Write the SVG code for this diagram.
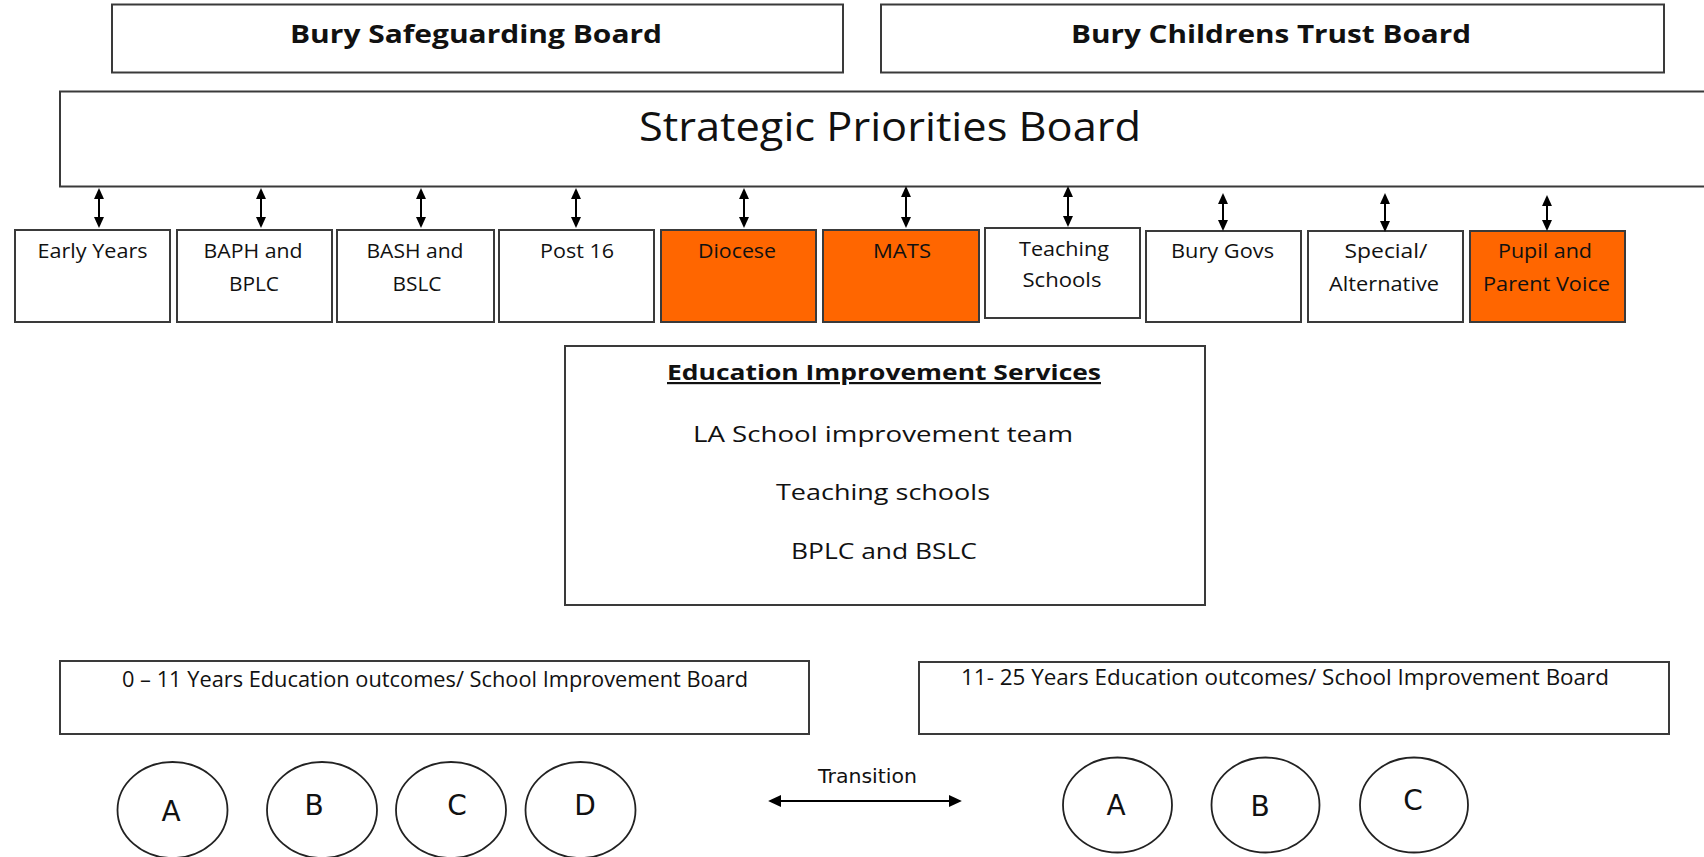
<svg xmlns="http://www.w3.org/2000/svg" width="1704" height="857" viewBox="0 0 1704 857">
<style>
.box{fill:#fff;stroke:#3a3a3a;stroke-width:2}
.org{fill:#FF6600}
.t{font-family:"Open Sans","Liberation Sans",sans-serif;fill:#111;text-anchor:middle}
.b{font-weight:bold}
.s20{font-size:20px}
.s22{font-size:22px}
.v{font-family:"DejaVu Sans","Liberation Sans",sans-serif;fill:#111;text-anchor:middle}
.conn line{stroke:#000;stroke-width:2;marker-start:url(#ah);marker-end:url(#ah)}
.conn line.h{marker-start:url(#ahl);marker-end:url(#ahl)}
.ell{fill:#fff;stroke:#222;stroke-width:1.8}
</style>
<defs>
<marker id="ah" viewBox="0 0 10 10" refX="6.4" refY="5" markerWidth="11" markerHeight="10" markerUnits="userSpaceOnUse" orient="auto-start-reverse" preserveAspectRatio="none"><path d="M0,0 L10,5 L0,10 z" fill="#000"/></marker>
<marker id="ahl" viewBox="0 0 10 10" refX="7" refY="5" markerWidth="13" markerHeight="12" markerUnits="userSpaceOnUse" orient="auto-start-reverse" preserveAspectRatio="none"><path d="M0,0 L10,5 L0,10 z" fill="#000"/></marker>
</defs>
<rect width="1704" height="857" fill="#fff"/>

<g id="safeguarding"><rect class="box" x="112" y="4.5" width="731" height="68"/><text class="t b" x="476" y="43" font-size="25" textLength="372" lengthAdjust="spacingAndGlyphs">Bury Safeguarding Board</text></g>
<g id="childrens-trust"><rect class="box" x="881" y="4.5" width="783" height="68"/><text class="t b" x="1271" y="43" font-size="25" textLength="400" lengthAdjust="spacingAndGlyphs">Bury Childrens Trust Board</text></g>
<g id="strategic"><rect class="box" x="60" y="91.5" width="1660" height="95"/><text class="t" x="890" y="141" font-size="40" textLength="502" lengthAdjust="spacingAndGlyphs">Strategic Priorities Board</text></g>

<g id="early-years"><rect class="box" x="15" y="230" width="155" height="92"/><text class="t s20" x="92.5" y="258" textLength="110" lengthAdjust="spacingAndGlyphs">Early Years</text></g>
<g id="baph"><rect class="box" x="177" y="230" width="155" height="92"/><text class="t s20" x="253" y="258" textLength="99" lengthAdjust="spacingAndGlyphs">BAPH and</text><text class="t s20" x="254" y="291" textLength="50" lengthAdjust="spacingAndGlyphs">BPLC</text></g>
<g id="bash"><rect class="box" x="337" y="230" width="157" height="92"/><text class="t s20" x="415" y="258" textLength="97" lengthAdjust="spacingAndGlyphs">BASH and</text><text class="t s20" x="417" y="291" textLength="49" lengthAdjust="spacingAndGlyphs">BSLC</text></g>
<g id="post16"><rect class="box" x="499" y="230" width="155" height="92"/><text class="t s20" x="577" y="258" textLength="74" lengthAdjust="spacingAndGlyphs">Post 16</text></g>
<g id="diocese"><rect class="box org" x="661" y="230" width="155" height="92"/><text class="t s20" x="737" y="258" textLength="78" lengthAdjust="spacingAndGlyphs">Diocese</text></g>
<g id="mats"><rect class="box org" x="823" y="230" width="156" height="92"/><text class="t s20" x="902" y="258" textLength="58" lengthAdjust="spacingAndGlyphs">MATS</text></g>
<g id="teaching-schools"><rect class="box" x="985" y="228" width="155" height="90"/><text class="t s20" x="1064" y="256" textLength="90" lengthAdjust="spacingAndGlyphs">Teaching</text><text class="t s20" x="1062" y="287" textLength="79" lengthAdjust="spacingAndGlyphs">Schools</text></g>
<g id="bury-govs"><rect class="box" x="1146" y="231" width="155" height="91"/><text class="t s20" x="1222.5" y="258" textLength="103" lengthAdjust="spacingAndGlyphs">Bury Govs</text></g>
<g id="special"><rect class="box" x="1308" y="231" width="155" height="91"/><text class="t s20" x="1386" y="258" textLength="83" lengthAdjust="spacingAndGlyphs">Special/</text><text class="t s20" x="1384" y="291" textLength="110" lengthAdjust="spacingAndGlyphs">Alternative</text></g>
<g id="pupil-parent"><rect class="box org" x="1470" y="231" width="155" height="91"/><text class="t s20" x="1545" y="258" textLength="94" lengthAdjust="spacingAndGlyphs">Pupil and</text><text class="t s20" x="1546.5" y="291" textLength="127" lengthAdjust="spacingAndGlyphs">Parent Voice</text></g>

<g id="education-improvement"><rect class="box" x="565" y="346" width="640" height="259"/>
<text class="t b s22" x="884" y="380" textLength="434" lengthAdjust="spacingAndGlyphs" text-decoration="underline">Education Improvement Services</text>
<text class="t s22" x="883" y="442" textLength="380" lengthAdjust="spacingAndGlyphs">LA School improvement team</text>
<text class="t s22" x="883" y="500" textLength="214" lengthAdjust="spacingAndGlyphs">Teaching schools</text>
<text class="t s22" x="884" y="559" textLength="186" lengthAdjust="spacingAndGlyphs">BPLC and BSLC</text></g>

<g id="board-0-11"><rect class="box" x="60" y="661" width="749" height="73"/><text class="t" x="435" y="687" font-size="21" textLength="626" lengthAdjust="spacingAndGlyphs">0 – 11 Years Education outcomes/ School Improvement Board</text></g>
<g id="board-11-25"><rect class="box" x="919" y="662" width="750" height="72"/><text class="t" x="1285" y="685" font-size="21" textLength="648" lengthAdjust="spacingAndGlyphs">11- 25 Years Education outcomes/ School Improvement Board</text></g>

<g id="transition"><text class="v" x="867.5" y="783" font-size="19" textLength="99" lengthAdjust="spacingAndGlyphs">Transition</text></g>

<g id="circle-a1"><ellipse class="ell" cx="172.5" cy="810" rx="55" ry="48"/><text class="v" x="171" y="821" font-size="28">A</text></g>
<g id="circle-b1"><ellipse class="ell" cx="322" cy="810" rx="55" ry="48"/><text class="v" x="314" y="815" font-size="28">B</text></g>
<g id="circle-c1"><ellipse class="ell" cx="451" cy="810" rx="55" ry="48"/><text class="v" x="457" y="815" font-size="28">C</text></g>
<g id="circle-d1"><ellipse class="ell" cx="580.5" cy="810" rx="55" ry="48"/><text class="v" x="585" y="815" font-size="28">D</text></g>
<g id="circle-a2"><ellipse class="ell" cx="1117.5" cy="805" rx="54.5" ry="47.5"/><text class="v" x="1116" y="815" font-size="28">A</text></g>
<g id="circle-b2"><ellipse class="ell" cx="1265.5" cy="805" rx="54" ry="47.5"/><text class="v" x="1260" y="816" font-size="28">B</text></g>
<g id="circle-c2"><ellipse class="ell" cx="1414" cy="805" rx="54" ry="47.5"/><text class="v" x="1413" y="810" font-size="28">C</text></g>

<g id="connectors" class="conn">
<line x1="99" y1="192" x2="99" y2="224"/>
<line x1="261" y1="192" x2="261" y2="224"/>
<line x1="421" y1="192" x2="421" y2="224"/>
<line x1="576" y1="192" x2="576" y2="224"/>
<line x1="744" y1="192" x2="744" y2="224"/>
<line x1="906" y1="190" x2="906" y2="224"/>
<line x1="1068" y1="190" x2="1068" y2="223"/>
<line x1="1223" y1="197" x2="1223" y2="227"/>
<line x1="1385" y1="197" x2="1385" y2="228"/>
<line x1="1547" y1="199" x2="1547" y2="227"/>
<line class="h" x1="772" y1="801" x2="958" y2="801"/>
</g>
</svg>
